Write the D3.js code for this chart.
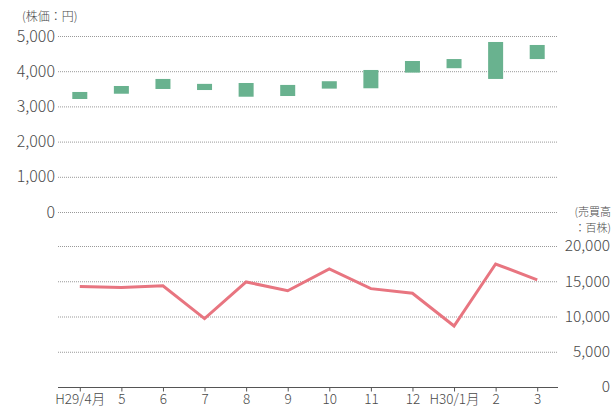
<!DOCTYPE html>
<html>
<head>
<meta charset="utf-8">
<script src="https://cdn.jsdelivr.net/npm/d3@7"></script>
<style>
  body { margin: 0; background: #fff; }
  text { font-family: "Noto Sans CJK JP", "Noto Sans", sans-serif; fill: #4a4a4a; font-weight: 300; }
</style>
</head>
<body>
<svg class="chart"></svg>
<script>
var width = 614, height = 408;

// months on the x axis
var months = ["H29/4月", "5", "6", "7", "8", "9", "10", "11", "12", "H30/1月", "2", "3"];
// monthly share price range (円)
var priceHigh = [3410, 3580, 3780, 3640, 3665, 3610, 3715, 4035, 4290, 4345, 4830, 4745];
var priceLow  = [3210, 3360, 3495, 3465, 3275, 3295, 3505, 3515, 3960, 4085, 3780, 4345];
// monthly trading volume (百株)
var volume = [14250, 14100, 14350, 9700, 14900, 13650, 16750, 13950, 13300, 8650, 17450, 15200];

var priceTicks = [0, 1000, 2000, 3000, 4000, 5000];
var volumeTicks = [0, 5000, 10000, 15000, 20000];

var left = 58, right = 558;

var svg = d3.select(".chart")
    .attr("width", width)
    .attr("height", height);

var x = d3.scalePoint()
    .domain(months)
    .range([left + 1, right])
    .padding(0.5);

var yPrice = d3.scaleLinear().domain([0, 5000]).range([212, 36]);
var yVol = d3.scaleLinear().domain([0, 20000]).range([387, 246]);

var fmt = d3.format(",");

// dotted grid lines, upper chart
svg.append("g")
    .selectAll("line")
    .data(priceTicks)
    .join("line")
        .attr("x1", left).attr("x2", right)
        .attr("y1", d => yPrice(d) + 0.5).attr("y2", d => yPrice(d) + 0.5)
        .attr("stroke", "#999")
        .attr("stroke-dasharray", "1,1");

// dotted grid lines, lower chart (zero is the solid baseline)
svg.append("g")
    .selectAll("line")
    .data(volumeTicks.filter(d => d > 0))
    .join("line")
        .attr("x1", left).attr("x2", right)
        .attr("y1", d => yVol(d) + 0.5).attr("y2", d => yVol(d) + 0.5)
        .attr("stroke", "#999")
        .attr("stroke-dasharray", "1,1");

// left axis labels
var leftAxis = svg.append("g")
    .attr("transform", "translate(55,0)")
    .call(d3.axisLeft(yPrice).tickValues(priceTicks).tickFormat(fmt).tickSize(0).tickPadding(0));
leftAxis.select(".domain").remove();
leftAxis.selectAll("text")
    .attr("font-size", 16)
    .attr("fill", "#4a4a4a");

// right axis labels, right aligned
var rightAxis = svg.append("g")
    .attr("transform", "translate(610,0)")
    .call(d3.axisRight(yVol).tickValues(volumeTicks).tickFormat(fmt).tickSize(0).tickPadding(0));
rightAxis.select(".domain").remove();
rightAxis.selectAll("text")
    .attr("text-anchor", "end")
    .attr("x", 0)
    .attr("font-size", 15.5)
    .attr("fill", "#4a4a4a");

// x axis
var xAxis = svg.append("g")
    .attr("transform", `translate(0,${yVol(0) + 0.5})`)
    .call(d3.axisBottom(x).tickSize(4).tickSizeOuter(0).tickPadding(3));
xAxis.select(".domain").remove();
xAxis.append("line")
    .attr("x1", left).attr("x2", right)
    .attr("stroke", "#555")
    .attr("stroke-width", 1.2);
xAxis.selectAll(".tick line").attr("stroke", "#555");
xAxis.selectAll("text")
    .attr("font-size", 13.5)
    .attr("fill", "#4a4a4a");

// unit labels
svg.append("text")
    .attr("x", 22).attr("y", 21)
    .attr("font-size", 12)
    .text("(株価：円)");

svg.append("text")
    .attr("x", 611).attr("y", 216)
    .attr("text-anchor", "end")
    .attr("font-size", 11)
    .text("(売買高");
svg.append("text")
    .attr("x", 611).attr("y", 232)
    .attr("text-anchor", "end")
    .attr("font-size", 11)
    .text("：百株)");

// price range bars
var barW = 15;
svg.append("g")
    .selectAll("rect")
    .data(months)
    .join("rect")
        .attr("x", d => x(d) - barW / 2)
        .attr("y", (d, i) => yPrice(priceHigh[i]))
        .attr("width", barW)
        .attr("height", (d, i) => yPrice(priceLow[i]) - yPrice(priceHigh[i]))
        .attr("fill", "#69b28f");

// volume line
var line = d3.line()
    .x(d => x(d[0]))
    .y(d => yVol(d[1]));

svg.append("path")
    .datum(months.map((m, i) => [m, volume[i]]))
    .attr("fill", "none")
    .attr("stroke", "#e87580")
    .attr("stroke-width", 3)
    .attr("stroke-linejoin", "miter")
    .attr("d", line);
</script>
</body>
</html>
